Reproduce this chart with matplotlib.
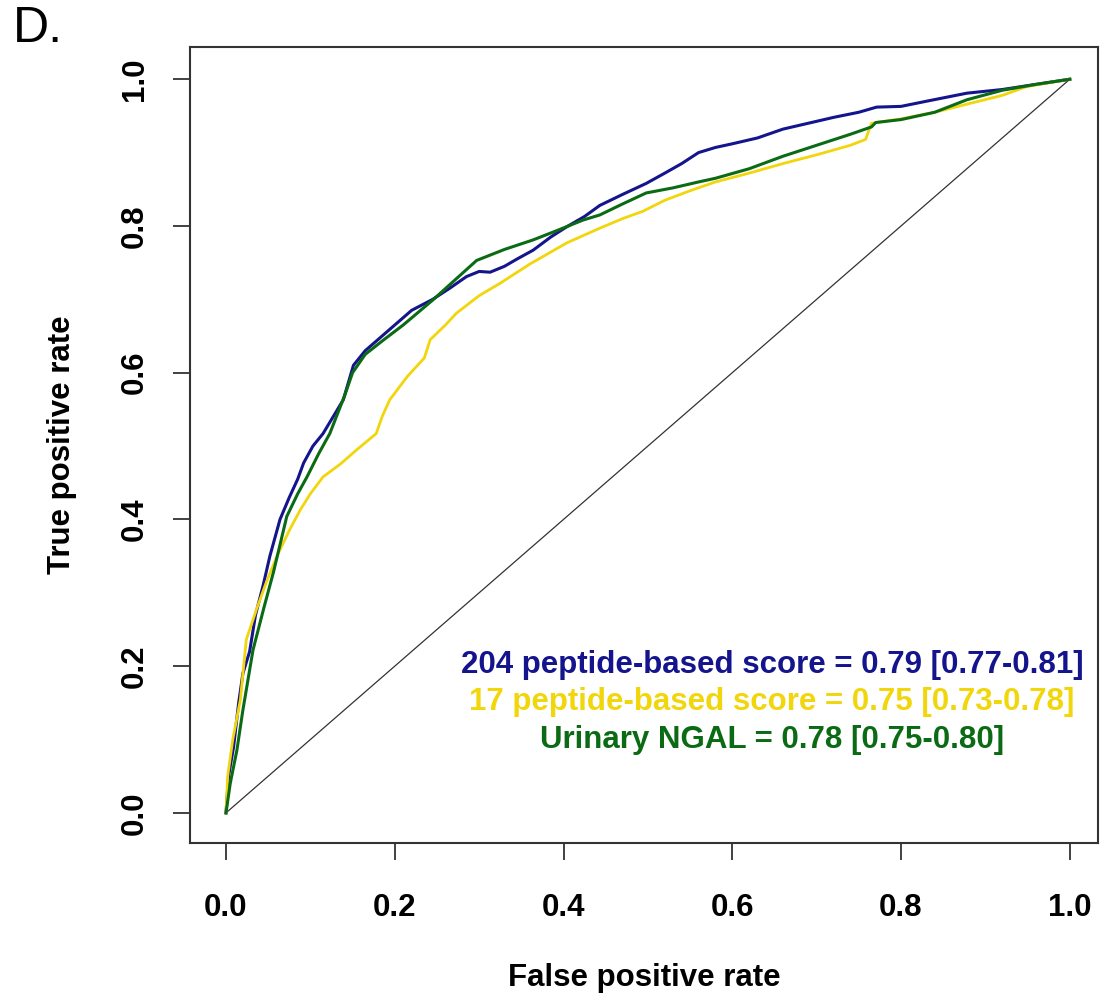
import matplotlib

matplotlib.use("Agg")
import matplotlib.pyplot as plt

# ROC curves (false positive rate, true positive rate)
fpr_204 = [0, 0.003, 0.009, 0.015, 0.02, 0.028, 0.035, 0.044, 0.052, 0.064, 0.075,
           0.085, 0.092, 0.103, 0.115, 0.127, 0.139, 0.151, 0.165, 0.18, 0.20, 0.22,
           0.245, 0.265, 0.285, 0.30, 0.313, 0.33, 0.345, 0.364, 0.385, 0.404, 0.425,
           0.443, 0.47, 0.498, 0.52, 0.54, 0.56, 0.58, 0.60, 0.63, 0.66, 0.69, 0.72,
           0.75, 0.771, 0.80, 0.83, 0.878, 0.92, 0.96, 1.0]
tpr_204 = [0, 0.05, 0.09, 0.15, 0.19, 0.22, 0.27, 0.31, 0.35, 0.40, 0.43,
           0.455, 0.477, 0.50, 0.517, 0.54, 0.563, 0.61, 0.63, 0.645, 0.665, 0.685,
           0.70, 0.715, 0.731, 0.738, 0.737, 0.745, 0.755, 0.767, 0.785, 0.799, 0.813,
           0.828, 0.843, 0.858, 0.872, 0.885, 0.90, 0.907, 0.912, 0.92, 0.932, 0.94, 0.948,
           0.955, 0.962, 0.963, 0.97, 0.981, 0.986, 0.993, 1.0]

fpr_17 = [0, 0.002, 0.008, 0.017, 0.024, 0.036, 0.048, 0.06, 0.075, 0.088, 0.10,
          0.115, 0.135, 0.155, 0.178, 0.185, 0.194, 0.215, 0.235, 0.242, 0.26, 0.273,
          0.30, 0.325, 0.36, 0.404, 0.443, 0.47, 0.494, 0.52, 0.55, 0.58, 0.62, 0.66,
          0.70, 0.74, 0.758, 0.765, 0.80, 0.84, 0.878, 0.92, 0.949, 1.0]
tpr_17 = [0, 0.05, 0.10, 0.154, 0.236, 0.277, 0.315, 0.349, 0.385, 0.413, 0.435,
          0.458, 0.475, 0.495, 0.517, 0.54, 0.563, 0.595, 0.62, 0.645, 0.665, 0.681,
          0.705, 0.722, 0.748, 0.777, 0.797, 0.81, 0.82, 0.835, 0.848, 0.86, 0.872, 0.885,
          0.897, 0.91, 0.918, 0.94, 0.946, 0.955, 0.966, 0.978, 0.99, 1.0]

fpr_ngal = [0, 0.005, 0.013, 0.02, 0.032, 0.045, 0.056, 0.072, 0.085, 0.096, 0.11,
            0.123, 0.141, 0.15, 0.165, 0.186, 0.21, 0.245, 0.27, 0.297, 0.33, 0.364,
            0.395, 0.423, 0.443, 0.47, 0.498, 0.53, 0.56, 0.58, 0.62, 0.66, 0.70, 0.74,
            0.765, 0.77, 0.80, 0.84, 0.878, 0.92, 0.96, 1.0]
tpr_ngal = [0, 0.04, 0.086, 0.14, 0.222, 0.28, 0.327, 0.404, 0.435, 0.458, 0.49,
            0.517, 0.57, 0.60, 0.625, 0.644, 0.665, 0.699, 0.725, 0.753, 0.768, 0.781,
            0.795, 0.808, 0.815, 0.83, 0.845, 0.852, 0.86, 0.865, 0.878, 0.895, 0.91, 0.925,
            0.935, 0.941, 0.945, 0.955, 0.972, 0.985, 0.993, 1.0]

labels = [
    "204 peptide-based score = 0.79 [0.77-0.81]",
    "17 peptide-based score = 0.75 [0.73-0.78]",
    "Urinary NGAL = 0.78 [0.75-0.80]",
]
colors = ["#14148c", "#f2d60c", "#0b6b14"]
ticks = [0.0, 0.2, 0.4, 0.6, 0.8, 1.0]

plt.rcParams["font.family"] = ["Liberation Sans", "DejaVu Sans"]
FS = 22.5

fig = plt.figure(figsize=(11, 9.97), dpi=100)
ax = fig.add_axes([0.1727, 0.1545, 0.8253, 0.7984])

ax.plot([0, 1], [0, 1], color="#333333", linewidth=0.9)
ax.plot(fpr_204, tpr_204, color=colors[0], linewidth=2.2)
ax.plot(fpr_17, tpr_17, color=colors[1], linewidth=2.0)
ax.plot(fpr_ngal, tpr_ngal, color=colors[2], linewidth=2.2)

ax.set_xlim(-0.0427, 1.0332)
ax.set_ylim(-0.041, 1.044)
ax.set_xticks(ticks)
ax.set_yticks(ticks)
ax.set_xticklabels([f"{t:.1f}" for t in ticks], fontsize=FS, fontweight="bold")
ax.set_yticklabels([f"{t:.1f}" for t in ticks], fontsize=FS, fontweight="bold",
                   rotation=90, va="center")
ax.tick_params(axis="both", length=12, width=1.3, color="#333333")
ax.tick_params(axis="x", pad=24)
ax.tick_params(axis="y", pad=17)
for sp in ax.spines.values():
    sp.set_linewidth(1.5)
    sp.set_color("#333333")

ax.set_xlabel("False positive rate", fontsize=FS, fontweight="bold", labelpad=29)
ax.set_ylabel("True positive rate", fontsize=FS, fontweight="bold", labelpad=31)

for i, (lab, col) in enumerate(zip(labels, colors)):
    ax.text(0.647, 0.2016 - i * 0.051, lab, color=col, fontsize=FS,
            fontweight="bold", ha="center", va="center")

fig.text(0.012, 0.971, "D.", fontsize=36, ha="left", va="center")

fig.savefig("out.png", dpi=100)
